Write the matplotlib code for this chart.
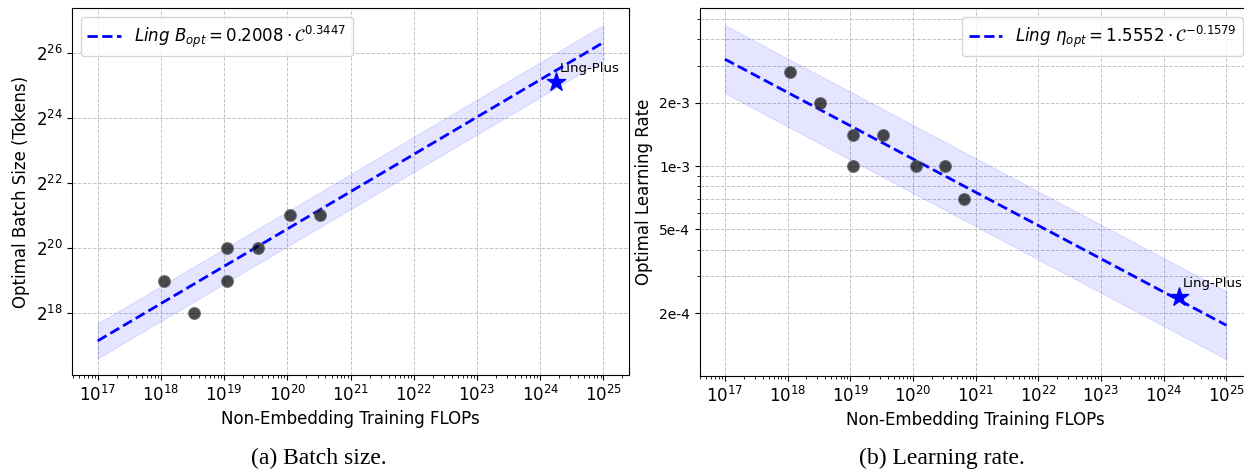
import numpy as np
import matplotlib.pyplot as plt
from matplotlib.ticker import NullFormatter

# measured runs (batch size panel)
bs_flops = [1.1e18, 3.3e18, 1.1e19, 1.1e19, 3.4e19, 1.1e20, 3.3e20]
bs_vals = [2**19, 2**18, 2**20, 2**19, 2**20, 2**21, 2**21]

# measured runs (learning rate panel)
lr_flops = [1.1e18, 3.3e18, 1.1e19, 1.1e19, 3.3e19, 1.1e20, 3.3e20, 6.6e20]
lr_vals = [2.8e-3, 2.0e-3, 1.4e-3, 1.0e-3, 1.4e-3, 1.0e-3, 1.0e-3, 7.0e-4]

# Ling-Plus point
plus_flops = 1.75e24
plus_bs = 3.62e7
plus_lr = 2.4e-4

# fitted power laws  y = a * C^b, band = multiplicative spread
fit_range = np.array([1e17, 1e25])
bs_coef, bs_exp = 0.2008, 0.3447
lr_coef, lr_exp = 1.5552, -0.1579
band = 1.45

xticks = [10.0**k for k in range(17, 26)]

fig = plt.figure(figsize=(12.44, 4.69), dpi=100)
ax1 = fig.add_axes([0.0582, 0.2004, 0.4472, 0.7819])
ax2 = fig.add_axes([0.5625, 0.1983, 0.4435, 0.7837])

grid_kw = dict(color="#c4c4c4", linestyle="--", linewidth=0.7)

# ---- (a) batch size
fit_bs = bs_coef * fit_range**bs_exp
ax1.fill_between(fit_range, fit_bs / band, fit_bs * band, color="blue", alpha=0.1, lw=0.8)
ax1.plot(fit_range, fit_bs, "--", color="blue", lw=2,
         label=r"$Ling\ B_{opt}=0.2008\cdot\mathcal{C}^{0.3447}$")
ax1.scatter(bs_flops, bs_vals, s=70, color="black", alpha=0.7,
            edgecolor="#555555", zorder=3)
ax1.scatter([plus_flops], [plus_bs], marker="*", s=190, color="blue", zorder=4)
ax1.annotate("Ling-Plus", (plus_flops, plus_bs), xytext=(3, 5),
             textcoords="offset points", fontsize=9.5, ha="left", va="bottom")
ax1.set_xscale("log")
ax1.set_yscale("log", base=2)
ax1.set_xticks(xticks)
ax1.set_yticks([2**k for k in range(18, 27, 2)])
ax1.grid(True, which="major", **grid_kw)
ax1.set_axisbelow(True)
ax1.set_xlabel("Non-Embedding Training FLOPs", fontsize=12)
ax1.set_ylabel("Optimal Batch Size (Tokens)", fontsize=12)
ax1.tick_params(axis="both", which="major", labelsize=12)
ax1.legend(loc="upper left", fontsize=12)

# ---- (b) learning rate
fit_lr = lr_coef * fit_range**lr_exp
ax2.fill_between(fit_range, fit_lr / band, fit_lr * band, color="blue", alpha=0.1, lw=0.8)
ax2.plot(fit_range, fit_lr, "--", color="blue", lw=2,
         label=r"$Ling\ \eta_{opt}=1.5552\cdot\mathcal{C}^{-0.1579}$")
ax2.scatter(lr_flops, lr_vals, s=70, color="black", alpha=0.7,
            edgecolor="#555555", zorder=3)
ax2.scatter([plus_flops], [plus_lr], marker="*", s=190, color="blue", zorder=4)
ax2.annotate("Ling-Plus", (plus_flops, plus_lr), xytext=(3, 5),
             textcoords="offset points", fontsize=9.5, ha="left", va="bottom")
ax2.set_xscale("log")
ax2.set_yscale("log")
ax2.set_xticks(xticks)
ax2.set_yticks([2e-4, 5e-4, 1e-3, 2e-3])
ax2.set_yticklabels(["2e-4", "5e-4", "1e-3", "2e-3"], fontsize=10)
ax2.yaxis.set_minor_formatter(NullFormatter())
ax2.grid(True, which="major", **grid_kw)
ax2.grid(True, which="minor", axis="y", **grid_kw)
ax2.set_axisbelow(True)
ax2.set_xlabel("Non-Embedding Training FLOPs", fontsize=12)
ax2.set_ylabel("Optimal Learning Rate", fontsize=12)
ax2.tick_params(axis="x", which="major", labelsize=12)
ax2.legend(loc="upper right", fontsize=12)

fig.text(0.256, 0.023, "(a) Batch size.", family="Liberation Serif",
         fontsize=17, ha="center", va="center")
fig.text(0.757, 0.023, "(b) Learning rate.", family="Liberation Serif",
         fontsize=17, ha="center", va="center")

fig.savefig("out.png", dpi=100)
